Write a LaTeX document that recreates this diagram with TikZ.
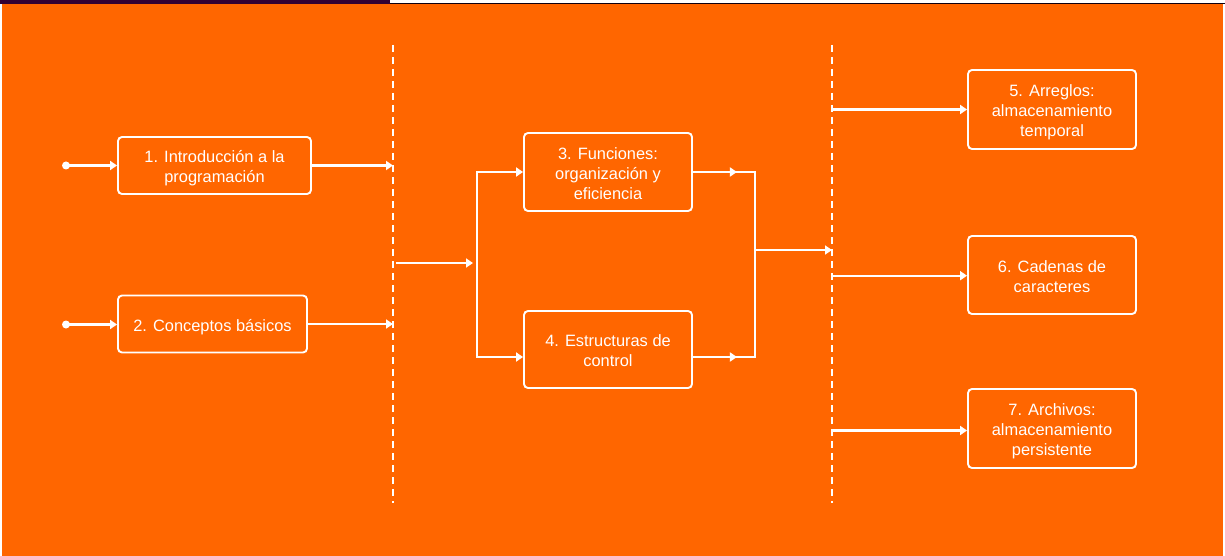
\documentclass[tikz,border=0pt]{standalone}
\usepackage{fontspec}
\setmainfont{Liberation Sans}
\usetikzlibrary{arrows.meta}
\definecolor{bgorange}{HTML}{FF6600}
\definecolor{darkplum}{HTML}{330033}
% centred multi-line box label, set slightly below the geometric centre
\newcommand{\boxtext}[1]{\raisebox{-3pt}[\height][\depth]{\begin{tabular}{@{}c@{}}#1\end{tabular}}}
\begin{document}
\begin{tikzpicture}[x=1pt,y=-1pt,
  box/.style={draw=white, line width=1.9pt, rounded corners=4pt, text=white,
    inner sep=0pt, font=\fontsize{16.4}{20}\selectfont},
  wline/.style={draw=white, line width=2.1pt},
  arr/.style={wline, -{Triangle[length=7pt,width=9pt]}},
  divider/.style={draw=white, line width=2.1pt, dash pattern=on 7pt off 5pt}]

% page frame and header strip
\useasboundingbox (0,0) rectangle (1225,556);
\fill[white] (0,0) rectangle (1225,556);
\fill[bgorange] (1.5,4.5) rectangle (1223,556);
\fill[darkplum] (0,0) rectangle (390,4.5);
\fill[black!70!darkplum] (390,3.2) rectangle (1225,4.5);

% divider lines
\coordinate (d1top) at (393,45);
\coordinate (d1bot) at (393,503);
\coordinate (d2top) at (832,45);
\coordinate (d2bot) at (832,503);
\draw[divider] (d1top) -- (d1bot);
\draw[divider] (d2top) -- (d2bot);

% boxes
\node[box, minimum width=193pt, minimum height=57pt] (b1) at (214.5,165.5)
  {\boxtext{1. Introducción a la\\programación}};
\node[box, minimum width=189pt, minimum height=57pt] (b2) at (212.5,324)
  {\boxtext{2. Conceptos básicos}};
\node[box, minimum width=168pt, minimum height=78pt] (b3) at (608,172)
  {\boxtext{3. Funciones:\\organización y\\eficiencia}};
\node[box, minimum width=168pt, minimum height=77pt] (b4) at (608,349.5)
  {\boxtext{4. Estructuras de\\control}};
\node[box, minimum width=168pt, minimum height=79pt] (b5) at (1052,109.5)
  {\boxtext{5. Arreglos:\\almacenamiento\\temporal}};
\node[box, minimum width=168pt, minimum height=78pt] (b6) at (1052,275)
  {\boxtext{6. Cadenas de\\caracteres}};
\node[box, minimum width=168pt, minimum height=79pt] (b7) at (1052,428.5)
  {\boxtext{7. Archivos:\\almacenamiento\\persistente}};

% entry points
\coordinate (s1) at (66,165.5);
\coordinate (s2) at (66,324.5);
\fill[white] (s1) circle (4pt);
\fill[white] (s2) circle (4pt);
\draw[arr] (s1) -- (b1.west);
\draw[arr] (s2) -- (s2 -| b2.west);

% into the first divider
\draw[arr] (b1.east) -- (b1.east -| d1top);
\draw[arr] (b2.east) -- (b2.east -| d1top);

% fork towards 3 and 4
\coordinate (fork) at (477,263);
\coordinate (b4in) at ([yshift=-7.5pt]b4.west);
\coordinate (b4out) at ([yshift=-7.5pt]b4.east);
\draw[arr] ([xshift=3pt]fork -| d1top) -- ([xshift=-4pt]fork);
\draw[arr] (fork) |- (b3.west);
\draw[arr] (fork) |- (b4in);

% merge after 3 and 4
\coordinate (merge) at (755,250);
\draw[wline] (b3.east) -| (merge);
\draw[wline] (b4out) -| (merge);
\draw[arr] (b3.east) -- ([xshift=44pt]b3.east);
\draw[arr] (b4out) -- ([xshift=44pt]b4out);
\draw[arr] (merge) -- (merge -| d2top);

% out of the second divider
\draw[arr] (b5.west -| d2top) -- (b5.west);
\draw[arr] ([yshift=-0.7pt]b6.west -| d2top) -- ([yshift=-0.7pt]b6.west);
\draw[arr] ([yshift=-2pt]b7.west -| d2top) -- ([yshift=-2pt]b7.west);
\end{tikzpicture}
\end{document}
